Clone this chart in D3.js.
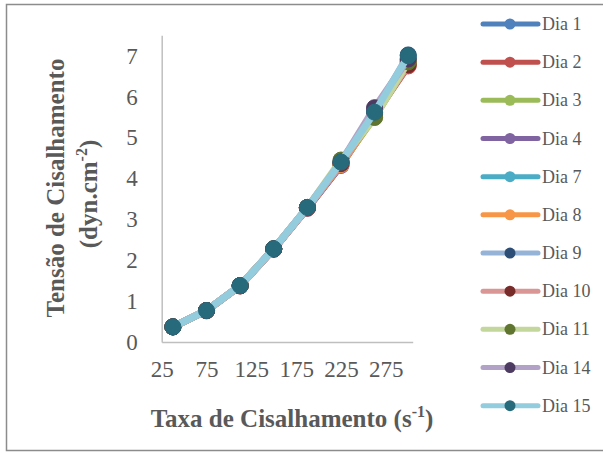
<!DOCTYPE html>
<html>
<head>
<meta charset="utf-8">
<script src="https://cdn.jsdelivr.net/npm/d3@7"></script>
<style>
  html, body { margin: 0; padding: 0; background: #fff; }
  svg { display: block; }
</style>
</head>
<body>
<svg id="chart" width="603" height="455"></svg>
<script>
// Shear rate (s^-1) at each measurement point
const shearRates = [37.5, 75, 112.5, 150, 187.5, 225, 262.5, 300];

// Series names (storage day)
const seriesNames = ["Dia 1", "Dia 2", "Dia 3", "Dia 4", "Dia 7", "Dia 8",
                     "Dia 9", "Dia 10", "Dia 11", "Dia 14", "Dia 15"];

// Shear stress (dyn.cm^-2) per day
const dia1  = [0.37, 0.77, 1.38, 2.28, 3.28, 4.34, 5.58, 6.90];
const dia2  = [0.37, 0.76, 1.37, 2.27, 3.27, 4.32, 5.55, 6.75];
const dia3  = [0.37, 0.77, 1.38, 2.28, 3.28, 4.36, 5.50, 6.82];
const dia4  = [0.37, 0.77, 1.38, 2.27, 3.27, 4.32, 5.70, 6.88];
const dia7  = [0.37, 0.77, 1.38, 2.28, 3.29, 4.38, 5.62, 6.95];
const dia8  = [0.37, 0.77, 1.38, 2.28, 3.28, 4.34, 5.55, 6.85];
const dia9  = [0.37, 0.77, 1.38, 2.28, 3.29, 4.40, 5.62, 7.02];
const dia10 = [0.37, 0.77, 1.37, 2.27, 3.28, 4.36, 5.57, 6.78];
const dia11 = [0.37, 0.77, 1.38, 2.28, 3.29, 4.45, 5.49, 6.85];
const dia14 = [0.37, 0.77, 1.38, 2.28, 3.29, 4.40, 5.73, 6.92];
const dia15 = [0.37, 0.77, 1.38, 2.28, 3.29, 4.40, 5.62, 7.00];

// Axis tick labels
const xTicks = [25, 75, 125, 175, 225, 275];
const yTicks = [0, 1, 2, 3, 4, 5, 6, 7];

// Line and marker colours per series
const lineColors   = ["#4F81BD", "#C0504D", "#9BBB59", "#8064A2", "#4BACC6", "#F79646",
                      "#95B3D7", "#D99694", "#C3D69B", "#B3A2C7", "#93CDDD"];
const markerColors = ["#4F81BD", "#C0504D", "#9BBB59", "#8064A2", "#4BACC6", "#F79646",
                      "#2C4D75", "#772C2A", "#5F7530", "#4D3B62", "#276A7C"];

const seriesValues = [dia1, dia2, dia3, dia4, dia7, dia8, dia9, dia10, dia11, dia14, dia15];
const series = seriesNames.map((name, i) => ({
  name,
  line: lineColors[i],
  marker: markerColors[i],
  points: shearRates.map((x, j) => ({ x, y: seriesValues[i][j] }))
}));

const svg = d3.select("#chart");
const textColor = "#595959";
const serif = "'Liberation Serif', 'DejaVu Serif', serif";

// Outer chart border
svg.append("rect")
  .attr("x", 6.5).attr("y", 4.5)
  .attr("width", 620).attr("height", 446)
  .attr("fill", "#fff")
  .attr("stroke", "#8C8C8C").attr("stroke-width", 1.5);

const x = d3.scaleLinear().domain([25, 305]).range([161.7, 412.7]);
const y = d3.scaleLinear().domain([0, 7.5]).range([342, 35.3]);

// Y axis
const yAxis = svg.append("g")
  .attr("transform", `translate(${x.range()[0]},0)`)
  .call(d3.axisLeft(y).tickValues(yTicks).tickSize(0).tickPadding(24).tickFormat(d3.format("d")));
yAxis.select(".domain").attr("stroke", "#BFBFBF").attr("stroke-width", 1.5);
yAxis.selectAll("text").attr("fill", textColor).style("font-family", serif).style("font-size", "23px");

// X axis
const xAxis = svg.append("g")
  .attr("transform", `translate(0,${y(0)})`)
  .call(d3.axisBottom(x).tickValues(xTicks).tickSize(0).tickPadding(19).tickFormat(d3.format("d")));
xAxis.select(".domain").attr("stroke", "#BFBFBF").attr("stroke-width", 1.5);
xAxis.selectAll("text").attr("fill", textColor).style("font-family", serif).style("font-size", "23px");

// Series lines and markers
const line = d3.line().x(d => x(d.x)).y(d => y(d.y));
const plot = svg.append("g");
series.forEach(s => {
  const g = plot.append("g");
  g.append("path")
    .datum(s.points)
    .attr("d", line)
    .attr("fill", "none")
    .attr("stroke", s.line)
    .attr("stroke-width", 7)
    .attr("stroke-linejoin", "round")
    .attr("stroke-linecap", "round");
  g.selectAll("circle")
    .data(s.points)
    .join("circle")
    .attr("cx", d => x(d.x))
    .attr("cy", d => y(d.y))
    .attr("r", 8)
    .attr("fill", s.marker)
    .attr("stroke", s.marker)
    .attr("stroke-width", 1);
});

// Axis titles
const xTitle = svg.append("text")
  .attr("x", 292).attr("y", 427)
  .attr("text-anchor", "middle")
  .attr("fill", textColor)
  .style("font-family", serif).style("font-size", "25px").style("font-weight", "bold");
xTitle.append("tspan").text("Taxa de Cisalhamento (s");
xTitle.append("tspan").attr("dy", -10).style("font-size", "16px").text("-1");
xTitle.append("tspan").attr("dy", 10).text(")");

const yTitle = svg.append("g")
  .attr("transform", "translate(64,188) rotate(-90)")
  .attr("fill", textColor)
  .style("font-family", serif).style("font-size", "25px").style("font-weight", "bold");
yTitle.append("text").attr("text-anchor", "middle").attr("y", 0).text("Tensão de Cisalhamento");
const yTitle2 = yTitle.append("text").attr("text-anchor", "middle").attr("x", -6).attr("y", 33);
yTitle2.append("tspan").text("(dyn.cm");
yTitle2.append("tspan").attr("dy", -10).style("font-size", "16px").text("-2");
yTitle2.append("tspan").attr("dy", 10).text(")");

// Legend
const legend = svg.append("g");
const legendY = d3.scalePoint().domain(seriesNames).range([24, 405.7]);
series.forEach(s => {
  const ly = legendY(s.name);
  const item = legend.append("g").attr("transform", `translate(0,${ly})`);
  item.append("line")
    .attr("x1", 483).attr("x2", 538)
    .attr("stroke", s.line).attr("stroke-width", 5)
    .attr("stroke-linecap", "round");
  item.append("circle")
    .attr("cx", 510).attr("r", 5.5)
    .attr("fill", s.marker);
  item.append("text")
    .attr("x", 542).attr("y", 6)
    .attr("fill", textColor)
    .style("font-family", serif).style("font-size", "18px")
    .text(s.name);
});
</script>
</body>
</html>
